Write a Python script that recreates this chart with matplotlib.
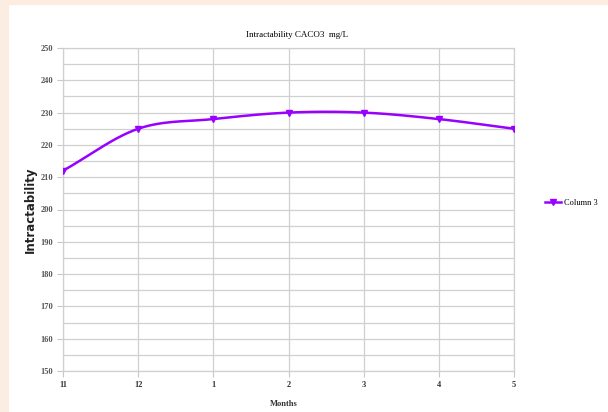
import numpy as np
import matplotlib
matplotlib.use("Agg")
import matplotlib.pyplot as plt
from matplotlib.patches import Rectangle

months = ["11", "12", "1", "2", "3", "4", "5"]
values = [212, 225, 228, 230, 230, 228, 225]
series_name = "Column 3"
title = "Intractability CACO3  mg/L"

fig = plt.figure(figsize=(6.08, 4.12), dpi=100)
fig.patch.set_facecolor("white")
# peach frame strips
fig.patches.append(Rectangle((0, 0), 8 / 608, 1, transform=fig.transFigure, color="#fcede3", zorder=0))
fig.patches.append(Rectangle((0, 1 - 4 / 412), 1, 4 / 412, transform=fig.transFigure, color="#fcede3", zorder=0))

ax = fig.add_axes([63 / 608, 1 - 371 / 412, (514 - 63) / 608, (371 - 48) / 412])
x = np.arange(len(months))
y = np.array(values, dtype=float)

# smooth display curve (Catmull-Rom through the data points)
def catmull(xp, yp, n=30):
    px = np.concatenate([[2 * xp[0] - xp[1]], xp, [2 * xp[-1] - xp[-2]]])
    py = np.concatenate([[2 * yp[0] - yp[1]], yp, [2 * yp[-1] - yp[-2]]])
    xs, ys = [], []
    t = np.linspace(0, 1, n)
    for i in range(1, len(px) - 2):
        p0, p1, p2, p3 = py[i - 1], py[i], py[i + 1], py[i + 2]
        q0, q1, q2, q3 = px[i - 1], px[i], px[i + 1], px[i + 2]
        fy = 0.5 * ((2 * p1) + (-p0 + p2) * t + (2 * p0 - 5 * p1 + 4 * p2 - p3) * t ** 2 + (-p0 + 3 * p1 - 3 * p2 + p3) * t ** 3)
        fx = 0.5 * ((2 * q1) + (-q0 + q2) * t + (2 * q0 - 5 * q1 + 4 * q2 - q3) * t ** 2 + (-q0 + 3 * q1 - 3 * q2 + q3) * t ** 3)
        xs.append(fx); ys.append(fy)
    return np.concatenate(xs), np.concatenate(ys)

sx, sy = catmull(x.astype(float), y)
color = "#9900ff"
ax.plot(sx, sy, color=color, lw=1.8, zorder=3)
ax.plot(x, y, linestyle="none", marker="v", color=color, markersize=5, zorder=4)
ax.plot([], [], color=color, lw=1.8, marker="v", markersize=5, label=series_name)

ax.set_xlim(0, len(months) - 1)
ax.set_ylim(150, 250)
ax.set_xticks(x)
ax.set_xticklabels(months)
ax.set_yticks(np.arange(150, 251, 10))
ax.set_yticks(np.arange(155, 250, 10), minor=True)
ax.grid(True, which="major", color="#d0d0d0", lw=0.9)
ax.grid(True, which="minor", axis="y", color="#d0d0d0", lw=0.9)
ax.tick_params(which="minor", length=0)
ax.tick_params(which="major", length=4, color="#c8c8c8", labelsize=6, pad=3)
ax.tick_params(axis="y", labelcolor="#555555")
ax.tick_params(axis="x", labelcolor="#333333")
for lab in ax.get_xticklabels() + ax.get_yticklabels():
    lab.set_fontfamily("Liberation Serif")
    lab.set_fontweight("bold")
for s in ax.spines.values():
    s.set_color("#d0d0d0")
    s.set_linewidth(0.9)

fig.text(297 / 608, 1 - 35 / 412, title, ha="center", va="center", fontsize=6.5, family="Liberation Serif")
fig.text(284 / 608, 1 - 404 / 412, "Months", ha="center", va="center", fontsize=6, family="Liberation Serif", fontweight="bold", color="#333333")
fig.text(30 / 608, 1 - 210 / 412, "Intractability", ha="center", va="center", rotation=90, fontsize=8.5, fontweight="bold", color="#222222")

leg = fig.legend(loc="center left", bbox_to_anchor=(537 / 608, 1 - 203 / 412), frameon=False,
                 prop={"family": "Liberation Serif", "size": 6}, handlelength=2.0, handletextpad=0.3)

fig.savefig("out.png", dpi=100)
